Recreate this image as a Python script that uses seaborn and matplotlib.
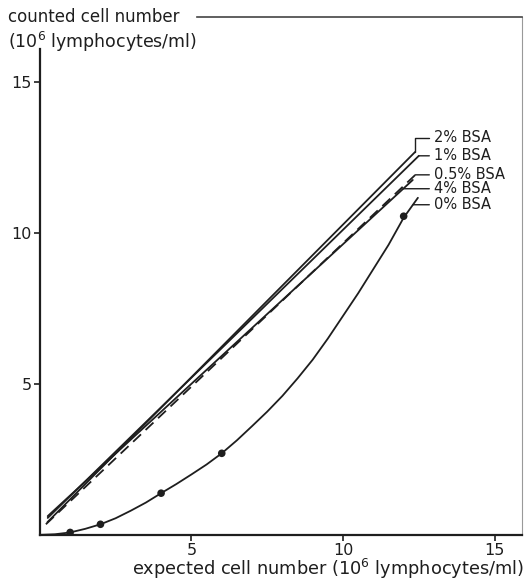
import numpy as np
import pandas as pd
import matplotlib
matplotlib.use("Agg")
import matplotlib.pyplot as plt
import seaborn as sns

# straight calibration lines (start and end of each line)
bsa_labels = ["2% BSA", "1% BSA", "0.5% BSA", "4% BSA"]
line_x_start = [0.25, 0.26, 0.2, 0.26]
line_y_start = [0.42, 0.56, 0.35, 0.62]
line_x_end = [12.38, 12.5, 12.47, 12.3]
line_y_end = [12.68, 12.55, 12.0, 11.75]
line_dashed = [False, False, True, False]

# 0% BSA: measured points and the drawn curve through them
zero_label = "0% BSA"
meas_x = [1, 2, 4, 6, 12]
meas_y = [0.08, 0.35, 1.38, 2.7, 10.55]
curve_x = [0, 0.5, 1, 1.5, 2, 2.5, 3, 3.5, 4, 4.5, 5, 5.5, 6, 6.5, 7, 7.5, 8, 8.5,
           9, 9.5, 10, 10.5, 11, 11.5, 12, 12.47]
curve_y = [0, 0.02, 0.08, 0.2, 0.35, 0.55, 0.8, 1.07, 1.38, 1.68, 2.0, 2.33, 2.7, 3.13,
           3.6, 4.08, 4.6, 5.18, 5.8, 6.5, 7.25, 8.0, 8.8, 9.6, 10.5, 11.16]

# label heights at the right hand side (same order: 2, 1, 0.5, 4, 0 %)
label_y = [13.15, 12.55, 11.92, 11.46, 10.93]
label_x = 13.0

ink = "#1e1e1e"

sns.set_style("ticks")
plt.rcParams["font.family"] = ["DejaVu Sans"]

fig = plt.figure(figsize=(5.24, 5.82), dpi=100)
ax = fig.add_axes([0.076, 0.081, 0.92, 0.890])

rows = []
for lab, xs, ys, xe, ye in zip(bsa_labels, line_x_start, line_y_start, line_x_end, line_y_end):
    rows.append({"serie": lab, "x": xs, "y": ys})
    rows.append({"serie": lab, "x": xe, "y": ye})
df_lines = pd.DataFrame(rows)

for lab, dashed in zip(bsa_labels, line_dashed):
    sub = df_lines[df_lines["serie"] == lab]
    sns.lineplot(data=sub, x="x", y="y", ax=ax, color=ink, lw=1.3,
                 linestyle=(0, (6, 3.5)) if dashed else "-", legend=False)

df_curve = pd.DataFrame({"x": curve_x, "y": curve_y})
sns.lineplot(data=df_curve, x="x", y="y", ax=ax, color=ink, lw=1.3, legend=False, sort=False)
df_meas = pd.DataFrame({"x": meas_x, "y": meas_y})
sns.scatterplot(data=df_meas, x="x", y="y", ax=ax, color=ink, s=30, edgecolor="none", zorder=5)

# labels with leader lines: horizontal leader meets the line at the label height,
# the 2% one goes up from the end of its line
names = bsa_labels + [zero_label]
line_pts = [([xs, xe], [ys, ye]) for xs, ys, xe, ye in
            zip(line_x_start, line_y_start, line_x_end, line_y_end)]
line_pts.append((curve_x, curve_y))
for name, (lx, lyy), ly in zip(names, line_pts, label_y):
    if ly <= lyy[-1]:
        xy = (np.interp(ly, lyy, lx), ly)
        conn = "arc3,rad=0"
    else:
        xy = (lx[-1], lyy[-1])
        conn = "angle,angleA=0,angleB=90,rad=0"
    ax.annotate(name, xy=xy, xytext=(label_x, ly), fontsize=10.5, color=ink,
                ha="left", va="center",
                arrowprops=dict(arrowstyle="-", color=ink, lw=1.0, shrinkA=1, shrinkB=0,
                                relpos=(0, 0.5), connectionstyle=conn))

ax.set_xlim(0, 15.9)
ax.set_ylim(0, 17.15)
ax.set_xticks([5, 10, 15])
ax.set_yticks([5, 10, 15])
ax.tick_params(direction="out", length=4, width=1.2, labelsize=11.5, colors=ink, pad=2)
ax.set_xlabel("")
ax.set_ylabel("")

for side in ["left", "bottom"]:
    ax.spines[side].set_linewidth(1.6)
    ax.spines[side].set_color(ink)
ax.spines["left"].set_bounds(0, 16.1)
ax.spines["top"].set_visible(True)
ax.spines["top"].set_bounds(5.2, 15.9)
ax.spines["top"].set_linewidth(1.2)
ax.spines["top"].set_color("#444444")
ax.spines["right"].set_visible(True)
ax.spines["right"].set_linewidth(0.8)
ax.spines["right"].set_color("#999999")

fig.text(8 / 524, 1 - 17 / 582, "counted cell number", fontsize=12, color=ink, va="center", ha="left")
fig.text(8 / 524, 1 - 42 / 582, "(10$^6$ lymphocytes/ml)", fontsize=12.5, color=ink, va="center", ha="left")
fig.text(1.0, 1 - 569 / 582, "expected cell number (10$^6$ lymphocytes/ml)", fontsize=12.8,
         color=ink, va="center", ha="right")

fig.savefig("out.png", dpi=100, facecolor="white")
